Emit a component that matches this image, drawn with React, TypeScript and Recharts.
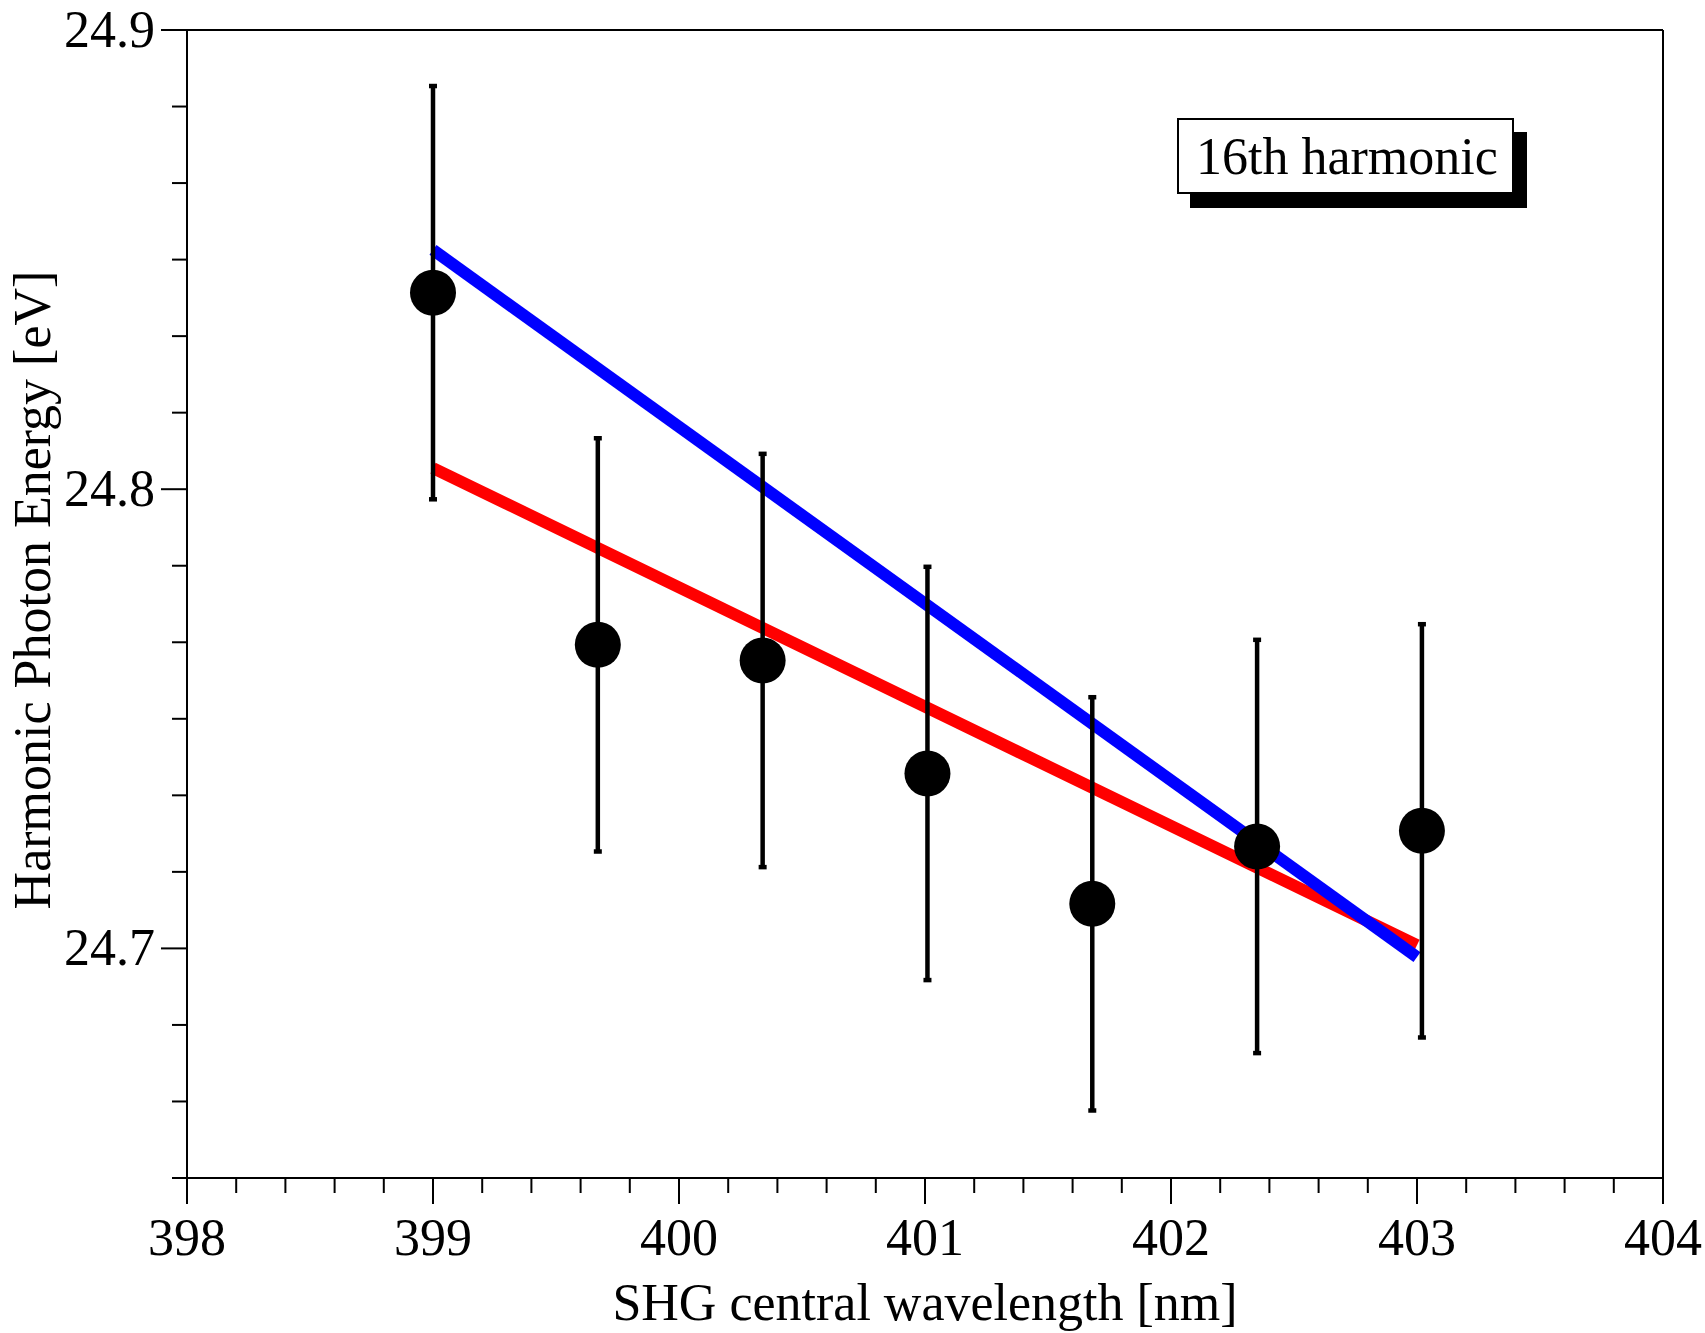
import React from 'react';
import { ComposedChart, Scatter, Line, XAxis, YAxis, ErrorBar, ReferenceLine } from 'recharts';

// measured points (SHG wavelength in nm, harmonic energy in eV)
const wavelengths = [399.0, 399.67, 400.34, 401.01, 401.68, 402.35, 403.02];
const energies = [24.8428, 24.7661, 24.7627, 24.7381, 24.7097, 24.7222, 24.7256];
const energyErrors = [0.045, 0.045, 0.045, 0.045, 0.045, 0.045, 0.045];

// fit lines
const redFitX = [399, 403];
const redFitY = [24.8046, 24.7007];
const blueFitX = [399, 403];
const blueFitY = [24.8521, 24.6981];

const xMajorTicks = [398, 399, 400, 401, 402, 403, 404];
const yMajorTicks = [24.7, 24.8, 24.9];

const FONT = "'Liberation Serif', 'Times New Roman', serif";

// minor ticks: every 0.2 nm on x, every 1/60 eV on y
const xTicks = Array.from({ length: 31 }, (_, i) => 398 + i * 0.2);
const yTicks = Array.from({ length: 16 }, (_, i) => 24.65 + i * (0.1 / 6));

const points = wavelengths.map((x, i) => ({ x, y: energies[i], err: energyErrors[i] }));
const redFit = redFitX.map((x, i) => ({ x, y: redFitY[i] }));
const blueFit = blueFitX.map((x, i) => ({ x, y: blueFitY[i] }));

const isMajor = (v: number, list: number[]) => list.some((t) => Math.abs(t - v) < 1e-6);

const XTick = (props: any) => {
  const { x, y, payload } = props;
  const v = payload.value;
  const major = isMajor(v, xMajorTicks);
  return (
    <g>
      <line x1={x} y1={y} x2={x} y2={y + (major ? 26 : 15)} stroke="#000" strokeWidth={2} />
      {major && (
        <text x={x} y={y + 77} textAnchor="middle" fontSize={52} fontFamily={FONT} fill="#000">
          {Math.round(v)}
        </text>
      )}
    </g>
  );
};

const YTick = (props: any) => {
  const { x, y, payload } = props;
  const v = payload.value;
  const major = isMajor(v, yMajorTicks);
  return (
    <g>
      <line x1={x} y1={y} x2={x - (major ? 26 : 15)} y2={y} stroke="#000" strokeWidth={2} />
      {major && (
        <text x={x - 32} y={y + 17} textAnchor="end" fontSize={52} fontFamily={FONT} fill="#000">
          {v.toFixed(1)}
        </text>
      )}
    </g>
  );
};

const Dot = (props: any) => <circle cx={props.cx} cy={props.cy} r={23} fill="#000" />;
const NoDot = () => <g />;

export default function App() {
  return (
    <div style={{ position: 'absolute', left: 0, top: 0, background: '#fff' }}>
      <ComposedChart
        width={1705}
        height={1333}
        margin={{ top: 30, right: 42, bottom: 55, left: 87 }}
      >
        <XAxis
          dataKey="x"
          type="number"
          domain={[398, 404]}
          ticks={xTicks}
          interval={0}
          tick={<XTick />}
          tickLine={false}
          tickSize={0}
          tickMargin={0}
          height={100}
          axisLine={{ stroke: '#000', strokeWidth: 2 }}
          allowDataOverflow
        />
        <YAxis
          type="number"
          domain={[24.65, 24.9]}
          ticks={yTicks}
          interval={0}
          tick={<YTick />}
          tickLine={false}
          tickSize={0}
          tickMargin={0}
          width={100}
          axisLine={{ stroke: '#000', strokeWidth: 2 }}
          allowDataOverflow
        />
        <ReferenceLine y={24.9} stroke="#000" strokeWidth={2} />
        <ReferenceLine x={404} stroke="#000" strokeWidth={2} />
        <Scatter data={points} dataKey="y" shape={<Dot />} isAnimationActive={false} />
        <Line data={redFit} dataKey="y" stroke="#ff0000" strokeWidth={12} dot={false} isAnimationActive={false} />
        <Line data={blueFit} dataKey="y" stroke="#0000ff" strokeWidth={12} dot={false} isAnimationActive={false} />
        <Scatter data={points} dataKey="y" shape={<NoDot />} isAnimationActive={false}>
          <ErrorBar dataKey="err" direction="y" width={4} strokeWidth={4.5} stroke="#000" isAnimationActive={false} />
        </Scatter>
        <g>
          <rect x={1190} y={132} width={337} height={76} fill="#000" />
          <rect x={1178} y={119} width={335} height={74} fill="#fff" stroke="#000" strokeWidth={2} />
          <text x={1196} y={174} fontSize={52} fontFamily={FONT} fill="#000">16th harmonic</text>
        </g>
        <text x={925} y={1320} textAnchor="middle" fontSize={52} fontFamily={FONT} fill="#000">
          SHG central wavelength [nm]
        </text>
        <text x={50} y={590} transform="rotate(-90, 50, 590)" textAnchor="middle" fontSize={52} fontFamily={FONT} fill="#000">
          Harmonic Photon Energy [eV]
        </text>
      </ComposedChart>
    </div>
  );
}
